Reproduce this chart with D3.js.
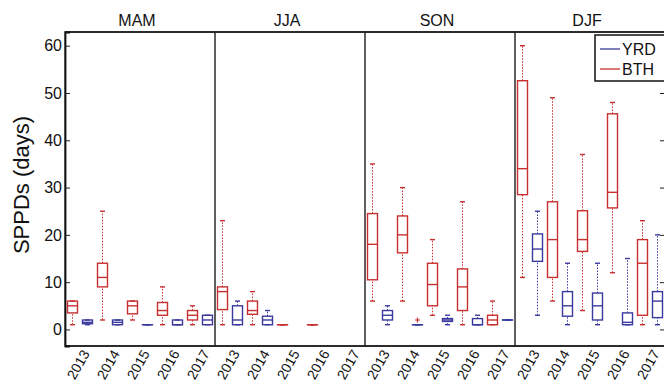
<!DOCTYPE html>
<html>
<head>
<meta charset="utf-8">
<script src="https://cdn.jsdelivr.net/npm/d3@7"></script>
<style>
  body { margin: 0; background: #fff; }
  svg { font-family: Arial, "Liberation Sans", Helvetica, sans-serif; }
</style>
</head>
<body>
<svg id="chart" width="664" height="384"></svg>
<script>
const seasons = ["MAM", "JJA", "SON", "DJF"];
const years = ["2013", "2014", "2015", "2016", "2017"];
const series = ["BTH", "YRD"];
const yTicks = [0, 10, 20, 30, 40, 50, 60];

// each box: [min, q1, median, q3, max], null = no data
const bthMAM = [[1, 3.5, 5, 6, 6], [2, 9, 11, 14, 25], [2, 3.3, 5, 6, 6], [1, 3, 4, 5.7, 9], [1, 2, 3, 4, 5]];
const yrdMAM = [[1, 1.2, 1.5, 2, 2], [1, 1, 1.5, 2, 2], [1, 1, 1, 1, 1], [1, 1, 1, 2, 2], [1, 1, 2, 3, 3]];
const bthJJA = [[1, 4.2, 8, 9, 23], [1, 3.2, 4, 6, 8], [1, 1, 1, 1, 1], [1, 1, 1, 1, 1], null];
const yrdJJA = [[1, 1, 2, 5, 6], [1, 1, 2, 2.8, 4], null, null, null];
const bthSON = [[6, 10.5, 18, 24.5, 35], [6, 16.2, 20, 24, 30], [3, 5, 9.5, 14, 19], [1, 4, 9, 12.8, 27], [1, 1, 2, 3, 6]];
const yrdSON = [[1, 2, 3, 4, 5], [1, 1, 1, 1, 1], [1, 1.7, 2, 2.3, 3], [1, 1, 1, 2.3, 3], [2, 2, 2, 2, 2]];
const bthDJF = [[11, 28.5, 34, 52.6, 60], [6, 11, 19, 27, 49], [4, 16.5, 19, 25.1, 37], [12, 25.7, 29, 45.6, 48], [1, 3, 14, 19, 23]];
const yrdDJF = [[3, 14.4, 17, 20.2, 25], [1, 2.8, 5, 8, 14], [1, 2, 5, 7.7, 14], [1, 1, 1.5, 3.5, 15], [1, 2.5, 6, 8, 20]];

const outlierSeason = ["SON"];
const outlierYear = ["2014"];
const outlierSeries = ["YRD"];
const outlierValue = [2];

const colors = { YRD: "#3a3a9e", BTH: "#c8302f" };
const boxes = { BTH: [bthMAM, bthJJA, bthSON, bthDJF], YRD: [yrdMAM, yrdJJA, yrdSON, yrdDJF] };

const svg = d3.select("#chart");
const margin = { top: 32, bottom: 346, left: 65, right: 665 };

const x = d3.scaleBand().domain(seasons).range([margin.left, margin.right]);
const xYear = d3.scaleBand().domain(years).range([0, x.bandwidth()]);
const xSeries = d3.scaleBand().domain(series).range([0, xYear.bandwidth()]);
const y = d3.scaleLinear().domain([-3.5, 62.9]).range([margin.bottom, margin.top]);

const boxW = 10, capW = 5;

// panel frames
seasons.forEach(s => {
  svg.append("rect")
    .attr("x", x(s)).attr("y", margin.top)
    .attr("width", x.bandwidth()).attr("height", margin.bottom - margin.top)
    .attr("fill", "none").attr("stroke", "#555").attr("stroke-width", 1.5);
  svg.append("text")
    .attr("x", x(s) + x.bandwidth() / 2 - 3).attr("y", 26)
    .attr("text-anchor", "middle").attr("font-size", 16).attr("fill", "#111")
    .text(s);
});
svg.append("line")
  .attr("x1", margin.left).attr("x2", margin.right)
  .attr("y1", margin.top).attr("y2", margin.top)
  .attr("stroke", "#111").attr("stroke-width", 1.5);
svg.append("line")
  .attr("x1", margin.left).attr("x2", margin.right)
  .attr("y1", margin.bottom).attr("y2", margin.bottom)
  .attr("stroke", "#111").attr("stroke-width", 1.5);

// left axis, ticks pointing inward
const yAxis = svg.append("g")
  .attr("transform", "translate(" + margin.left + ",0)")
  .call(d3.axisRight(y).tickValues(yTicks).tickSize(5).tickFormat(""));
yAxis.select(".domain").attr("stroke", "#111").attr("stroke-width", 1.8);
yAxis.selectAll(".tick line").attr("stroke", "#222");
svg.selectAll(".ylab")
  .data(yTicks).enter().append("text")
  .attr("class", "ylab")
  .attr("x", margin.left - 3).attr("y", d => y(d)).attr("dy", "0.36em")
  .attr("text-anchor", "end").attr("font-size", 16).attr("fill", "#111")
  .text(d => d);

// right axis ticks on DJF edge
const yAxisR = svg.append("g")
  .attr("transform", "translate(" + margin.right + ",0)")
  .call(d3.axisLeft(y).tickValues(yTicks).tickSize(5).tickFormat(""));
yAxisR.select(".domain").remove();
yAxisR.selectAll(".tick line").attr("stroke", "#222");

svg.append("text")
  .attr("transform", "translate(29,185) rotate(-90)")
  .attr("text-anchor", "middle").attr("font-size", 22).attr("fill", "#111")
  .text("SPPDs (days)");

// year labels
seasons.forEach(s => {
  svg.selectAll(".yr-" + s)
    .data(years).enter().append("text")
    .attr("transform", d => "translate(" + (x(s) + xYear(d) + xYear.bandwidth() / 2 + 6) + ",351) rotate(-60)")
    .attr("text-anchor", "end").attr("dy", "0.35em")
    .attr("font-size", 14).attr("fill", "#111")
    .text(d => d);
});

// boxes
series.forEach(sr => {
  seasons.forEach((s, si) => {
    boxes[sr][si].forEach((b, yi) => {
      if (!b) return;
      const cx = x(s) + xYear(years[yi]) + xSeries(sr) + xSeries.bandwidth() / 2;
      const g = svg.append("g").attr("stroke", colors[sr]).attr("fill", "none");
      // whiskers
      g.append("line").attr("x1", cx).attr("x2", cx).attr("y1", y(b[3])).attr("y2", y(b[4]))
        .attr("stroke-dasharray", "1.5,1.5");
      g.append("line").attr("x1", cx).attr("x2", cx).attr("y1", y(b[0])).attr("y2", y(b[1]))
        .attr("stroke-dasharray", "1.5,1.5");
      g.append("line").attr("x1", cx - capW / 2).attr("x2", cx + capW / 2)
        .attr("y1", y(b[4])).attr("y2", y(b[4])).attr("stroke-width", 1.4);
      g.append("line").attr("x1", cx - capW / 2).attr("x2", cx + capW / 2)
        .attr("y1", y(b[0])).attr("y2", y(b[0])).attr("stroke-width", 1.4);
      g.append("rect")
        .attr("x", cx - boxW / 2).attr("y", y(b[3]))
        .attr("width", boxW).attr("height", Math.max(0.01, y(b[1]) - y(b[3])))
        .attr("stroke-width", 1.4);
      g.append("line").attr("x1", cx - boxW / 2).attr("x2", cx + boxW / 2)
        .attr("y1", y(b[2])).attr("y2", y(b[2])).attr("stroke-width", 1.4);
    });
  });
});

// outliers
outlierValue.forEach((v, i) => {
  const cx = x(outlierSeason[i]) + xYear(outlierYear[i]) + xSeries(outlierSeries[i]) + xSeries.bandwidth() / 2;
  svg.append("path")
    .attr("d", "M" + (cx - 2.5) + "," + y(v) + "h5M" + cx + "," + (y(v) - 2.5) + "v5")
    .attr("stroke", colors.BTH).attr("stroke-width", 1.2);
});

// legend
const lg = svg.append("g");
lg.append("rect").attr("x", 595).attr("y", 35).attr("width", 80).attr("height", 46)
  .attr("fill", "#fff").attr("stroke", "#111").attr("stroke-width", 1.5);
["YRD", "BTH"].forEach((k, i) => {
  const ly = 49 + i * 20;
  lg.append("line").attr("x1", 600).attr("x2", 620).attr("y1", ly).attr("y2", ly)
    .attr("stroke", colors[k]).attr("stroke-width", 1.3);
  lg.append("text").attr("x", 622).attr("y", ly).attr("dy", "0.36em")
    .attr("font-size", 16).attr("fill", "#111").text(k);
});
</script>
</body>
</html>
